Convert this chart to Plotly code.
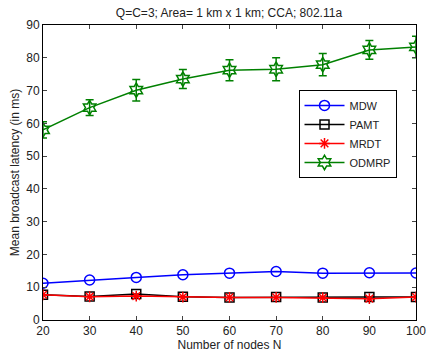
import plotly.graph_objects as go

nodes = [20, 30, 40, 50, 60, 70, 80, 90, 100]
mdw = [11.2, 12.2, 13.0, 13.8, 14.3, 14.8, 14.3, 14.4, 14.35]
pamt = [7.7, 7.2, 7.9, 7.1, 6.9, 7.0, 6.9, 7.0, 7.0]
mrdt = [7.7, 7.1, 7.3, 7.0, 6.9, 6.9, 6.8, 6.5, 7.0]
odmrp = [58.0, 64.8, 70.1, 73.5, 76.2, 76.5, 77.9, 82.4, 83.3]
odmrp_err = [2.5, 2.4, 3.3, 2.9, 3.2, 3.5, 3.4, 2.85, 3.3]

font = "Liberation Sans, Arial, sans-serif"
fig = go.Figure()
fig.add_trace(go.Scatter(x=nodes, y=mdw, name="MDW", mode="lines+markers",
                         line=dict(color="#0000ff", width=1.5),
                         marker=dict(symbol="circle-open", size=10, color="#0000ff", line=dict(width=1.5))))
fig.add_trace(go.Scatter(x=nodes, y=pamt, name="PAMT", mode="lines+markers",
                         line=dict(color="#000000", width=1.5),
                         marker=dict(symbol="square-open", size=9, color="#000000", line=dict(width=1.5))))
fig.add_trace(go.Scatter(x=nodes, y=mrdt, name="MRDT", mode="lines+markers",
                         line=dict(color="#ff0000", width=1.5),
                         marker=dict(symbol="asterisk-open", size=9, color="#ff0000", line=dict(width=1.5))))
fig.add_trace(go.Scatter(x=nodes, y=odmrp, name="ODMRP", mode="lines+markers",
                         line=dict(color="#008000", width=1.5),
                         marker=dict(symbol="hexagram-open", size=11, color="#008000", line=dict(width=1.5)),
                         error_y=dict(type="data", array=odmrp_err, visible=True, color="#008000",
                                      thickness=1.5, width=4)))

fig.update_layout(
    width=428, height=361,
    margin=dict(l=43, r=12, t=25, b=41, autoexpand=False),
    paper_bgcolor="white", plot_bgcolor="white",
    font=dict(family=font, size=12, color="#222222"),
    title=dict(text="Q=C=3; Area= 1 km x 1 km; CCA; 802.11a", x=0.535, xanchor="center",
               y=0.965, yanchor="middle", font=dict(size=12)),
    showlegend=True,
    legend=dict(x=0.685, y=0.78, xanchor="left", yanchor="top",
                bordercolor="black", borderwidth=1, bgcolor="white",
                font=dict(size=11), tracegroupgap=0, itemwidth=40),
)
fig.update_xaxes(range=[20, 100], tickvals=nodes, ticks="inside", ticklen=4,
                 showline=True, linecolor="black", linewidth=1, mirror="ticks",
                 showgrid=False, zeroline=False, automargin=False,
                 title=dict(text="Number of nodes N", standoff=2, font=dict(size=12)))
fig.update_yaxes(range=[0, 90], tickvals=list(range(0, 91, 10)), ticks="inside", ticklen=4,
                 showline=True, linecolor="black", linewidth=1, mirror="ticks",
                 showgrid=False, zeroline=False, automargin=False,
                 title=dict(text="Mean broadcast latency (in ms)", standoff=4, font=dict(size=12)))

fig.write_html("out.html")
